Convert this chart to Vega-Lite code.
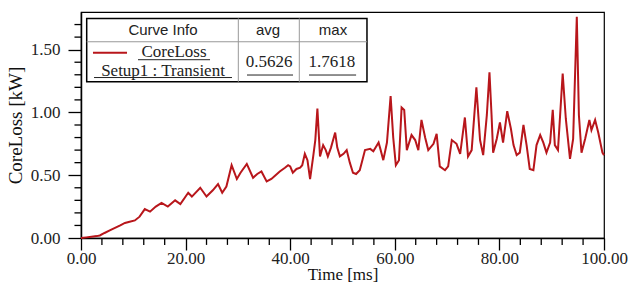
{
  "$schema": "https://vega.github.io/schema/vega-lite/v6.json",
  "autosize": {"type": "none"},
  "padding": {"left": 81, "top": 12, "right": 33, "bottom": 46},
  "width": 523,
  "height": 226,
  "background": "white",
  "config": {
    "view": {"stroke": "#000", "strokeWidth": 1.2},
    "axis": {"domainColor": "#000", "tickColor": "#000", "labelColor": "#222", "titleColor": "#111", "grid": false, "labelFont": "Times New Roman", "titleFont": "Times New Roman", "titleFontWeight": "normal"}
  },
  "datasets": {
    "curve": [
      {"t":0,"v":0},{"t":1,"v":0.005},{"t":2,"v":0.01},{"t":3,"v":0.015},{"t":3.6,"v":0.02},{"t":4.5,"v":0.04},{"t":5.5,"v":0.06},{"t":6.5,"v":0.08},{"t":7.5,"v":0.1},{"t":8.4,"v":0.12},{"t":9.3,"v":0.13},{"t":10.3,"v":0.14},{"t":11.2,"v":0.17},{"t":12.2,"v":0.23},{"t":13.2,"v":0.21},{"t":14.3,"v":0.25},{"t":15.4,"v":0.28},{"t":16.6,"v":0.25},{"t":18,"v":0.3},{"t":19,"v":0.27},{"t":20.5,"v":0.36},{"t":21.2,"v":0.33},{"t":22.8,"v":0.4},{"t":24,"v":0.33},{"t":25.2,"v":0.38},{"t":26.2,"v":0.43},{"t":27,"v":0.36},{"t":27.8,"v":0.41},{"t":28.8,"v":0.58},{"t":29.8,"v":0.47},{"t":30.5,"v":0.52},{"t":31.7,"v":0.59},{"t":32.9,"v":0.48},{"t":33.7,"v":0.51},{"t":34.5,"v":0.53},{"t":35.5,"v":0.45},{"t":36.4,"v":0.47},{"t":37.2,"v":0.5},{"t":38,"v":0.53},{"t":39,"v":0.56},{"t":39.6,"v":0.58},{"t":40,"v":0.57},{"t":40.5,"v":0.52},{"t":41.2,"v":0.55},{"t":41.9,"v":0.56},{"t":42.3,"v":0.58},{"t":42.8,"v":0.67},{"t":43.3,"v":0.62},{"t":43.8,"v":0.47},{"t":44.4,"v":0.65},{"t":44.8,"v":0.78},{"t":45.2,"v":1.03},{"t":45.7,"v":0.65},{"t":46.3,"v":0.74},{"t":46.8,"v":0.7},{"t":47.2,"v":0.65},{"t":47.8,"v":0.72},{"t":48.6,"v":0.84},{"t":49,"v":0.72},{"t":49.5,"v":0.65},{"t":50.2,"v":0.67},{"t":50.8,"v":0.7},{"t":51.4,"v":0.6},{"t":52,"v":0.52},{"t":52.6,"v":0.51},{"t":53.3,"v":0.54},{"t":53.8,"v":0.62},{"t":54.3,"v":0.7},{"t":55.3,"v":0.71},{"t":55.9,"v":0.69},{"t":56.9,"v":0.76},{"t":57.3,"v":0.7},{"t":57.8,"v":0.62},{"t":58.5,"v":0.76},{"t":59.2,"v":1.13},{"t":59.7,"v":0.8},{"t":60.2,"v":0.58},{"t":60.8,"v":0.62},{"t":61.3,"v":1.04},{"t":61.8,"v":1.02},{"t":62.3,"v":0.7},{"t":63.2,"v":0.82},{"t":63.9,"v":0.78},{"t":64.5,"v":0.7},{"t":65.1,"v":0.94},{"t":65.8,"v":0.8},{"t":66.4,"v":0.7},{"t":67.4,"v":0.75},{"t":68,"v":0.83},{"t":68.6,"v":0.57},{"t":69.6,"v":0.54},{"t":70.2,"v":0.57},{"t":70.9,"v":0.78},{"t":71.8,"v":0.75},{"t":72.5,"v":0.67},{"t":73.4,"v":0.96},{"t":74,"v":0.65},{"t":74.7,"v":0.7},{"t":75.6,"v":1.2},{"t":76.3,"v":0.78},{"t":76.9,"v":0.66},{"t":77.6,"v":0.98},{"t":78.1,"v":1.32},{"t":78.5,"v":0.98},{"t":78.8,"v":0.68},{"t":79.5,"v":0.79},{"t":80.1,"v":0.92},{"t":80.7,"v":0.76},{"t":81.5,"v":1.01},{"t":82.2,"v":0.87},{"t":82.7,"v":0.74},{"t":83.3,"v":0.66},{"t":83.9,"v":0.68},{"t":84.6,"v":0.9},{"t":85.2,"v":0.74},{"t":85.8,"v":0.55},{"t":86.5,"v":0.54},{"t":87.1,"v":0.74},{"t":87.8,"v":0.82},{"t":88.4,"v":0.76},{"t":89,"v":0.68},{"t":89.7,"v":0.76},{"t":90.2,"v":1.02},{"t":90.6,"v":0.74},{"t":91.2,"v":0.7},{"t":92.1,"v":1.31},{"t":92.7,"v":0.95},{"t":93.5,"v":0.63},{"t":94.1,"v":0.79},{"t":94.8,"v":1.7618},{"t":95.2,"v":0.98},{"t":95.7,"v":0.68},{"t":96.4,"v":0.79},{"t":97.2,"v":0.94},{"t":97.6,"v":0.86},{"t":98.3,"v":0.94},{"t":98.9,"v":0.84},{"t":99.7,"v":0.68},{"t":100,"v":0.66}
    ],
    "xminor": [{"t":4},{"t":8},{"t":12},{"t":16},{"t":24},{"t":28},{"t":32},{"t":36},{"t":44},{"t":48},{"t":52},{"t":56},{"t":64},{"t":68},{"t":72},{"t":76},{"t":84},{"t":88},{"t":92},{"t":96}],
    "yminor": [{"v":0.1},{"v":0.2},{"v":0.3},{"v":0.4},{"v":0.6},{"v":0.7},{"v":0.8},{"v":0.9},{"v":1.1},{"v":1.2},{"v":1.3},{"v":1.4},{"v":1.6},{"v":1.7}],
    "box": [{"x1":1.09,"x2":54.68,"y1":1.244,"y2":1.749}],
    "grid": [
      {"x1":1.09,"x2":54.68,"y1":1.563,"y2":1.563},
      {"x1":30.08,"x2":30.08,"y1":1.244,"y2":1.749},
      {"x1":41.74,"x2":41.74,"y1":1.244,"y2":1.749}
    ],
    "header": [
      {"label":"Curve Info","x":15.68,"y":1.656},
      {"label":"avg","x":35.76,"y":1.656},
      {"label":"max","x":48.18,"y":1.656}
    ],
    "cells": [
      {"label":"CoreLoss","x":17.78,"y":1.483},
      {"label":"Setup1 : Transient","x":15.68,"y":1.333},
      {"label":"0.5626","x":35.95,"y":1.405},
      {"label":"1.7618","x":47.99,"y":1.405}
    ],
    "underlines": [
      {"x1":10.9,"x2":24.67,"y":1.42},
      {"x1":2.49,"x2":28.87,"y":1.278},
      {"x1":31.74,"x2":40.54,"y":1.298},
      {"x1":43.6,"x2":52.6,"y":1.298}
    ],
    "swatch": [{"x1":2.29,"x2":8.8,"y":1.476}]
  },
  "layer": [
    {
      "data": {"name": "curve"},
      "mark": {"type": "line", "color": "#b8161b", "strokeWidth": 2, "interpolate": "linear"},
      "encoding": {
        "x": {"field": "t", "type": "quantitative", "scale": {"domain": [0, 100], "nice": false},
          "axis": {"orient": "bottom", "values": [0, 20, 40, 60, 80, 100], "format": ".2f", "tickSize": 12, "tickWidth": 1.3, "domainWidth": 1.5, "labelFontSize": 17, "labelPadding": 0, "labelFlush": false, "labelOverlap": false, "title": "Time [ms]", "titleFontSize": 17, "titlePadding": 0}},
        "y": {"field": "v", "type": "quantitative", "scale": {"domain": [0, 1.8], "nice": false},
          "axis": {"orient": "left", "values": [0, 0.5, 1, 1.5], "format": ".2f", "tickSize": 13, "tickWidth": 1.3, "domainWidth": 1.5, "labelFontSize": 17, "labelPadding": 8, "labelFlush": false, "labelOverlap": false, "title": "CoreLoss [kW]", "titleFontSize": 19, "titlePadding": 5}}
      }
    },
    {
      "data": {"name": "xminor"},
      "mark": {"type": "rule", "color": "#000", "strokeWidth": 1.3},
      "encoding": {
        "x": {"field": "t", "type": "quantitative"},
        "y": {"datum": 0},
        "y2": {"datum": -0.055}
      }
    },
    {
      "data": {"name": "yminor"},
      "mark": {"type": "rule", "color": "#000", "strokeWidth": 1.3},
      "encoding": {
        "y": {"field": "v", "type": "quantitative"},
        "x": {"datum": 0},
        "x2": {"datum": -1.25}
      }
    },
    {
      "data": {"name": "box"},
      "mark": {"type": "rect", "fill": "white", "stroke": "#000", "strokeWidth": 1.5},
      "encoding": {
        "x": {"field": "x1", "type": "quantitative"},
        "x2": {"field": "x2"},
        "y": {"field": "y1", "type": "quantitative"},
        "y2": {"field": "y2"}
      }
    },
    {
      "data": {"name": "grid"},
      "mark": {"type": "rule", "color": "#999", "strokeWidth": 1},
      "encoding": {
        "x": {"field": "x1", "type": "quantitative"},
        "x2": {"field": "x2"},
        "y": {"field": "y1", "type": "quantitative"},
        "y2": {"field": "y2"}
      }
    },
    {
      "data": {"name": "header"},
      "mark": {"type": "text", "font": "Arial", "fontSize": 15, "color": "#222", "align": "center", "baseline": "middle"},
      "encoding": {
        "x": {"field": "x", "type": "quantitative"},
        "y": {"field": "y", "type": "quantitative"},
        "text": {"field": "label"}
      }
    },
    {
      "data": {"name": "cells"},
      "mark": {"type": "text", "font": "Times New Roman", "fontSize": 17, "color": "#222", "align": "center", "baseline": "middle"},
      "encoding": {
        "x": {"field": "x", "type": "quantitative"},
        "y": {"field": "y", "type": "quantitative"},
        "text": {"field": "label"}
      }
    },
    {
      "data": {"name": "underlines"},
      "mark": {"type": "rule", "color": "#222", "strokeWidth": 1},
      "encoding": {
        "x": {"field": "x1", "type": "quantitative"},
        "x2": {"field": "x2"},
        "y": {"field": "y", "type": "quantitative"}
      }
    },
    {
      "data": {"name": "swatch"},
      "mark": {"type": "rule", "color": "#b8161b", "strokeWidth": 2},
      "encoding": {
        "x": {"field": "x1", "type": "quantitative"},
        "x2": {"field": "x2"},
        "y": {"field": "y", "type": "quantitative"}
      }
    }
  ]
}
